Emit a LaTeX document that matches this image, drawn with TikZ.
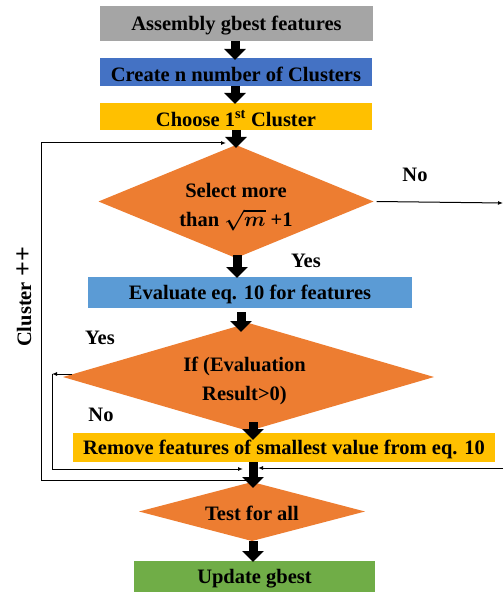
\documentclass[tikz,border=0pt]{standalone}
\usepackage{fontspec}
\setmainfont{Liberation Serif}
\usetikzlibrary{arrows.meta,shapes.geometric}
\definecolor{cgray}{HTML}{A5A5A5}
\definecolor{cblue}{HTML}{4472C4}
\definecolor{cgold}{HTML}{FFC000}
\definecolor{corange}{HTML}{ED7D31}
\definecolor{clblue}{HTML}{5B9BD5}
\definecolor{cgreen}{HTML}{70AD47}
\newcommand{\lowtxt}[2]{\raisebox{#1}[\height][\depth]{#2}}
\newcommand{\twolines}[3]{\raisebox{#1}[\height][\depth]{\begin{tabular}{@{}c@{}}#2\\[3pt]#3\end{tabular}}}
\begin{document}
\begin{tikzpicture}[x=1pt,y=-1pt,
  txt/.style={font=\bfseries\fontsize{20.5}{26}\selectfont, align=center, inner sep=0pt, outer sep=0pt, text=black},
  box/.style={txt, rectangle},
  dia/.style={txt, diamond, fill=corange},
  blockarrow/.style={line width=9pt, -{Triangle[length=11pt,width=21pt]}},
  thinarrow/.style={line width=1pt, -{Latex[length=5pt,width=4pt]}},
  lbl/.style={txt}]
\useasboundingbox (0,0) rectangle (503,593);

% boxes
\node[box, fill=cgray, minimum width=273pt, minimum height=35pt] (assembly) at (236.5,23.5) {\lowtxt{-2pt}{Assembly gbest features}};
\node[box, fill=cblue, minimum width=272pt, minimum height=28pt] (create) at (236,72) {\lowtxt{-2pt}{Create n number of Clusters}};
\node[box, fill=cgold, minimum width=272pt, minimum height=27pt] (choose) at (236,116.5) {\lowtxt{-2pt}{Choose 1\textsuperscript{st} Cluster}};
\node[dia, aspect=2.43, minimum width=275pt, minimum height=113pt] (d1) at (236,201.5) {\twolines{-5pt}{Select more}{than {\boldmath$\sqrt{m}$} +1}};
\node[box, fill=clblue, minimum width=324pt, minimum height=31pt] (eval) at (250,292.5) {\lowtxt{-1.5pt}{Evaluate eq. 10 for features}};
\node[dia, aspect=3.43, minimum width=371pt, minimum height=108pt] (d2) at (248.5,377) {\twolines{-4pt}{\hspace*{-8pt}If (Evaluation}{\hspace*{-8pt}Result>0)}};
\node[box, fill=cgold, minimum width=422pt, minimum height=29pt] (remove) at (284,447.5) {\lowtxt{-2pt}{Remove features of smallest value from eq. 10}};
\node[dia, aspect=3.83, minimum width=226pt, minimum height=59pt] (d3) at (252,511.5) {\lowtxt{-2pt}{Test for all}};
\node[box, fill=cgreen, minimum width=241pt, minimum height=31pt] (update) at (254.5,576.5) {\lowtxt{-2pt}{Update gbest}};

% labels
\node[lbl] (lno1) at (415,175) {No};
\node[lbl] (lyes1) at (306,261) {Yes};
\node[lbl] (lyes2) at (100,338) {Yes};
\node[lbl] (lno2) at (101,415) {No};
\node[lbl, rotate=90] (lcl) at (24,297) {Cluster {\fontsize{26}{26}\selectfont ++}};

% free-end coordinates
\coordinate (tl) at (41,143);
\coordinate (bl) at (41,480);
\coordinate (jb) at (249,480);
\coordinate (ltip) at (226,143);
\coordinate (yl) at (52,374);
\coordinate (yb) at (52,469);
\coordinate (yend) at (243,469);
\coordinate (nr) at (503,203);
\coordinate (nrin) at (503,468);
\coordinate (nrend) at (258,468);

% block arrows
\draw[blockarrow] (235,41) -- (235,60);
\draw[blockarrow] (235,86) -- (235,104);
\draw[blockarrow] (236,130) -- (236,148);
\draw[blockarrow] (237,255) -- (237,278);
\draw[blockarrow] (241,312) -- (241,332);
\draw[blockarrow] (253,422) -- (253,440);
\draw[blockarrow] (253,462) -- (253,488);
\draw[blockarrow] (253,541) -- (253,562);

% thin connectors
\draw[thinarrow] (jb) -- (bl) -- (tl) -- (ltip);
\draw[thinarrow] (72,374) -- (yl);
\draw[thinarrow] (yl) -- (yb) -- (yend);
\draw[thinarrow] (d1.east) ++(3,0) -- (nr);
\draw[thinarrow] (nrin) -- (nrend);
\end{tikzpicture}
\end{document}
